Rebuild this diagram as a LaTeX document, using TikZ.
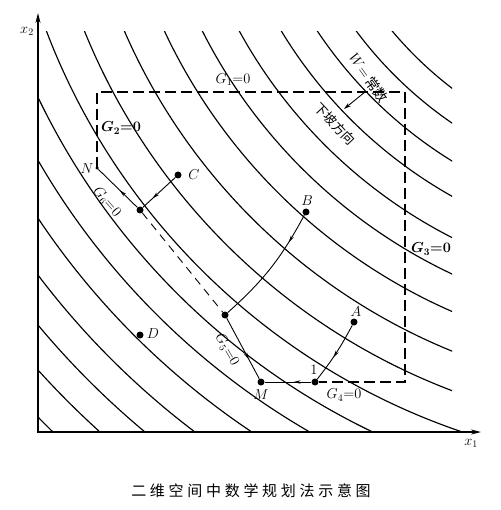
\documentclass[tikz,border=0pt]{standalone}
\usepackage{amsmath,bm}
\usepackage{fontspec}
\newfontfamily\cjk{Noto Sans CJK SC}
\usetikzlibrary{arrows.meta,decorations.markings}
\begin{document}
\begin{tikzpicture}[x=1pt,y=-1pt,
  contour/.style={line width=1.15pt},
  axisline/.style={line width=1.5pt},
  bound/.style={line width=1.1pt,dash pattern=on 11pt off 5pt},
  pathl/.style={line width=0.9pt},
  dot/.style={circle,fill,inner sep=0pt,minimum size=7pt},
  smalldot/.style={circle,fill,inner sep=0pt,minimum size=3.5pt},
  lab/.style={font=\fontsize{14}{16}\selectfont,inner sep=0pt},
  midarrow/.style={postaction={decorate},decoration={markings,mark=at position #1 with {\arrow{Stealth[length=7pt,width=3.5pt]}}}}]
\useasboundingbox (0,0) rectangle (500,510);
\coordinate (O) at (38,432);
\coordinate (ctr) at (680,-210);
% contour lines W = const
\begin{scope}
  \clip (38,32) rectangle (452,432);
  \foreach \r in {375.4,403.6,435.4,465.8,502.2,534.9,569.0,605.5,642.3,711.6,741.0,771.6,804.6,835.7,865.2,897.4}
    \draw[contour] (ctr) circle[radius=\r pt];
\end{scope}
\begin{scope}
  \clip (38,32) rectangle (465,432);
  \draw[contour] (ctr) circle[radius=677.7pt];
\end{scope}
% axes
\coordinate (ytip) at (38,13);
\coordinate (xtip) at (481,432);
\draw[axisline,{Stealth[length=10pt,width=5pt]}-{Stealth[length=10pt,width=5pt]}] (ytip) -- (O) -- (xtip);
\node[lab] (lx2) at (27,31) {$x_2$};
\node[lab] (lx1) at (471,443) {$x_1$};
% points
\coordinate (TL) at (97,92);
\coordinate (TR) at (405,92);
\coordinate (BR) at (405,382);
\node[smalldot] (N) at (97,168) {};
\node[dot] (P6) at (140,210) {};
\node[dot] (C) at (178,175) {};
\node[dot] (P5) at (225,315) {};
\node[dot] (B) at (306,212) {};
\node[dot] (M) at (261,382) {};
\node[dot] (one) at (315,382) {};
\node[dot] (A) at (354,322) {};
\node[dot] (D) at (140,335) {};
% constraint boundaries
\draw[bound] (N.center) -- (TL) -- (TR) -- (BR) -- (one);
\draw[pathl,dash pattern=on 8pt off 6pt] (P6) -- (P5);
% search paths
\draw[pathl,midarrow=0.45] (P6) -- (N);
\draw[pathl,midarrow=0.7] (C) -- (P6);
\draw[pathl,midarrow=0.25] (B) to[bend left=10] (P5);
\draw[pathl,midarrow=0.68] (P5) -- (M);
\draw[pathl,midarrow=0.58] (A) to[bend left=5] (one);
\draw[pathl,midarrow=0.38] (one) -- (M);
% downhill arrow
\coordinate (ds) at (365,92);
\coordinate (de) at (344,109);
\draw[pathl,-{Stealth[length=7pt,width=4pt]}] (ds) -- (de);
% labels
\node[lab] (lG1) at (233,80) {$G_1{=}0$};
\node[lab] (lG2) at (121,128) {$\bm{G_2{=}0}$};
\node[lab] (lN) at (87,169) {$N$};
\node[lab,rotate=-49] (lG6) at (107,202) {$G_6{=}0$};
\node[lab] (lC) at (194,175) {$C$};
\node[lab] (lB) at (307,201) {$B$};
\node[lab] (lG3) at (431,249) {$\bm{G_3{=}0}$};
\node[lab] (lA) at (356,312) {$A$};
\node[lab] (lD) at (153,334) {$D$};
\node[lab,rotate=-60] (lG5) at (227,350) {$G_5{=}0$};
\node[lab] (lM) at (261,395) {$M$};
\node[lab] (l1) at (314,370) {$1$};
\node[lab] (lG4) at (344,395) {$G_4{=}0$};
\node[lab,rotate=-55] (lW) at (369,78) {$W{=}$\,{\cjk 常数}};
\node[lab,rotate=-47,font=\fontsize{13}{15}\selectfont] (ldown) at (335,124) {\cjk 下坡方向};
% caption
\node[font=\fontsize{15}{17}\selectfont\cjk,inner sep=0pt] (cap) at (251,491)
  {二\hspace{3.7pt}维\hspace{3.7pt}空\hspace{3.7pt}间\hspace{3.7pt}中\hspace{3.7pt}数\hspace{3.7pt}学\hspace{3.7pt}规\hspace{3.7pt}划\hspace{3.7pt}法\hspace{3.7pt}示\hspace{3.7pt}意\hspace{3.7pt}图};
\end{tikzpicture}
\end{document}
